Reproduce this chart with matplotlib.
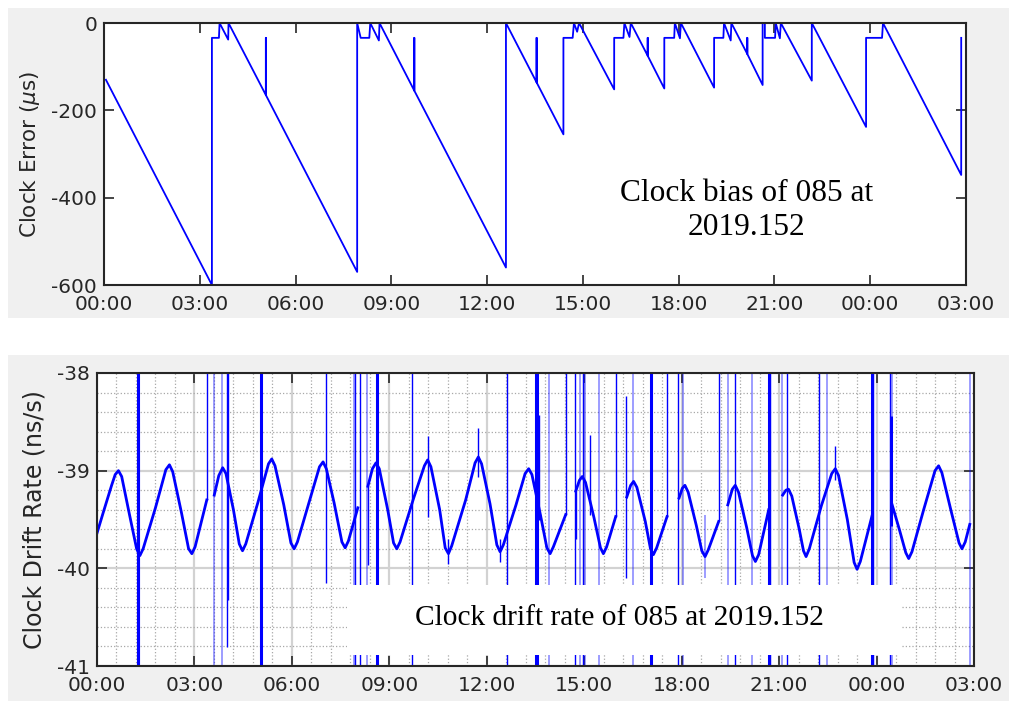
import matplotlib
matplotlib.use('Agg')
import matplotlib.pyplot as plt
import numpy as np
from matplotlib.patches import Rectangle
from matplotlib.ticker import MultipleLocator

plt.rcParams['axes.unicode_minus'] = False

# ---- top panel: clock bias (hours since 00:00, microseconds)
bias_h = [0.06, 3.38, 3.38, 3.60, 3.62, 3.89, 3.90, 5.07, 5.07, 5.07, 7.93,
          7.93, 8.04, 8.31, 8.34, 8.61, 8.63, 9.72, 9.72, 9.72, 12.59,
          12.59, 13.55, 13.55, 13.55, 14.39,
          14.39, 14.68, 14.72, 14.82, 14.88, 15.98,
          15.98, 16.27, 16.30, 16.46, 16.50, 17.03, 17.03, 17.03, 17.55,
          17.55, 17.86, 17.88, 18.04, 18.07, 19.11,
          19.11, 19.40, 19.42, 19.63, 19.65, 20.15, 20.15, 20.15, 20.63,
          20.63, 20.70, 20.70, 21.02, 21.04, 21.17, 21.20, 22.17,
          22.17, 23.87,
          23.87, 24.37, 24.40, 26.85, 26.85]
bias_us = [-130, -600, -34, -34, 0, -38, 0, -165, -34, -165, -570,
           0, -34, -34, 0, -40, 0, -155, -34, -155, -560,
           0, -136, -34, -136, -255,
           -34, -34, 0, -20, 0, -152,
           -34, -34, 0, -32, 0, -75, -34, -75, -150,
           -34, -34, 0, -35, 0, -148,
           -34, -34, 0, -40, 0, -71, -34, -71, -142,
           0, 0, -34, -34, 0, -35, 0, -132,
           0, -238,
           -34, -34, 0, -348, -34]

# ---- bottom panel: clock drift rate (ns/s), segments between resets
seg1_h = [0.00, 0.20, 0.45, 0.56, 0.66, 0.76, 1.00, 1.22, 1.32, 1.42, 1.80,
          2.12, 2.23, 2.33, 2.60, 2.82, 2.92, 3.02, 3.38]
seg1_v = [-39.64, -39.42, -39.15, -39.04, -39.00, -39.06, -39.45, -39.80,
          -39.87, -39.80, -39.38, -38.99, -38.94, -39.01, -39.43, -39.80,
          -39.85, -39.78, -39.30]
seg2_h = [3.61, 3.75, 3.87, 3.97, 4.20, 4.38, 4.48, 4.58, 4.95, 5.28, 5.38,
          5.48, 5.75, 5.97, 6.07, 6.17, 6.55, 6.85, 6.96, 7.06, 7.30, 7.54,
          7.64, 7.74, 8.03]
seg2_v = [-39.25, -39.05, -38.97, -39.03, -39.40, -39.75, -39.82, -39.75,
          -39.33, -38.93, -38.88, -38.95, -39.35, -39.74, -39.80, -39.73,
          -39.30, -38.96, -38.91, -38.98, -39.33, -39.73, -39.79, -39.72,
          -39.38]
seg3_h = [8.34, 8.48, 8.59, 8.69, 8.95, 9.13, 9.23, 9.33, 9.75, 10.08, 10.18,
          10.28, 10.55, 10.72, 10.82, 10.92, 11.35, 11.64, 11.74, 11.84,
          12.10, 12.31, 12.41, 12.51, 12.90, 13.18, 13.29, 13.39, 13.65,
          13.85, 13.95, 14.05, 14.43]
seg3_v = [-39.16, -38.98, -38.92, -38.98, -39.40, -39.74, -39.80, -39.73,
          -39.28, -38.95, -38.89, -38.96, -39.40, -39.79, -39.85, -39.77,
          -39.30, -38.92, -38.86, -38.93, -39.34, -39.76, -39.83, -39.76,
          -39.35, -39.03, -38.98, -39.04, -39.45, -39.79, -39.85, -39.78,
          -39.45]
seg4_h = [14.74, 14.85, 14.94, 15.04, 15.30, 15.50, 15.59, 15.69, 15.97]
seg4_v = [-39.21, -39.10, -39.06, -39.12, -39.48, -39.79, -39.85, -39.78, -39.47]
seg5_h = [16.31, 16.43, 16.52, 16.62, 16.88, 17.04, 17.13, 17.23, 17.55]
seg5_v = [-39.27, -39.15, -39.11, -39.17, -39.52, -39.80, -39.86, -39.79, -39.47]
seg6_h = [17.92, 18.02, 18.10, 18.20, 18.45, 18.62, 18.72, 18.82, 19.14]
seg6_v = [-39.28, -39.18, -39.15, -39.22, -39.56, -39.82, -39.88, -39.81, -39.52]
seg7_h = [19.42, 19.56, 19.65, 19.75, 20.00, 20.18, 20.27, 20.37, 20.68]
seg7_v = [-39.35, -39.19, -39.15, -39.22, -39.58, -39.87, -39.93, -39.86, -39.40]
seg8_h = [21.11, 21.21, 21.29, 21.39, 21.62, 21.75, 21.83, 21.93, 22.30,
          22.62, 22.73, 22.83, 23.10, 23.31, 23.40, 23.50, 23.87]
seg8_v = [-39.25, -39.20, -39.19, -39.26, -39.60, -39.82, -39.88, -39.80,
          -39.36, -39.03, -38.98, -39.05, -39.50, -39.94, -40.01, -39.93,
          -39.45]
seg9_h = [24.48, 24.70, 24.90, 24.99, 25.09, 25.45, 25.80, 25.91, 26.01,
          26.30, 26.54, 26.63, 26.73, 26.87]
seg9_v = [-39.35, -39.60, -39.84, -39.90, -39.83, -39.40, -39.00, -38.95,
          -39.02, -39.42, -39.74, -39.80, -39.73, -39.55]

# spikes in the drift rate: hour, low, high, kind (values past -38/-41 are off scale)
spike_h = [1.25, 3.61, 3.86, 5.05, 7.90, 7.95, 8.10, 8.30, 8.61, 9.71, 12.62,
           13.50, 13.56, 13.92, 14.72, 14.88, 14.95, 15.01, 15.46, 16.49,
           17.06, 17.10, 17.90, 18.04, 19.42, 19.65, 20.17, 20.68, 20.72,
           21.10, 21.25, 22.22, 22.46, 23.87, 23.90, 24.41, 24.48, 26.89,
           3.38, 4.00, 4.02, 7.06, 8.34, 14.43, 14.74, 15.18, 15.97, 16.28,
           17.55, 18.72, 19.14, 24.43, 10.20, 11.74, 10.82, 12.41, 22.73,
           13.60, 1.27]
spike_lo = [-41.5, -41.5, -41.5, -41.5, -41.5, -41.5, -41.5, -41.5, -41.5,
            -41.5, -41.5, -41.5, -41.5, -41.5, -41.5, -41.5, -41.5, -41.5,
            -41.5, -41.5, -41.5, -41.5, -41.5, -41.5, -41.5, -41.5, -41.5,
            -41.5, -41.5, -41.5, -41.5, -41.5, -41.5, -41.5, -41.5, -41.5,
            -41.5, -41.5,
            -39.30, -40.81, -40.32, -40.15, -39.97, -39.45, -39.70, -39.45,
            -39.47, -40.10, -39.47, -40.10, -39.52, -39.57, -39.47, -39.06,
            -39.96, -39.94, -39.10, -39.50, -41.5]
spike_hi = [-37.5] * 38 + [
            -37.5, -37.5, -37.5, -37.5, -39.16, -37.5, -39.21, -38.63,
            -37.5, -38.24, -37.5, -39.45, -37.5, -38.44, -38.64, -38.56,
            -39.70, -39.70, -38.75, -38.43, -38.41]
spike_kind = ['thick', 'light', 'light', 'thick', 'light', 'thin', 'thin',
              'light', 'thick', 'thin', 'thin', 'thick', 'thick', 'light',
              'thin', 'light', 'thin', 'light', 'light', 'light', 'thick',
              'light', 'thin', 'light', 'light', 'thin', 'light', 'thick',
              'thin', 'light', 'thin', 'thin', 'light', 'thick', 'thin',
              'thin', 'light', 'light',
              'thin', 'thin', 'thin', 'thin', 'thin', 'thin', 'thin', 'thin',
              'thin', 'thin', 'thin', 'light', 'thin', 'thick', 'thin', 'thin',
              'thin', 'thin', 'thin', 'thin', 'thick']

tick_hours = [0, 3, 6, 9, 12, 15, 18, 21, 24, 27]
tick_labels = ['00:00', '03:00', '06:00', '09:00', '12:00', '15:00', '18:00',
               '21:00', '00:00', '03:00']

ink = '#262626'
panel = '#f0f0f0'

fig = plt.figure(figsize=(10.09, 7.01), dpi=100)
fig.add_artist(Rectangle((8 / 1009, 1 - 318 / 701), 1, 310 / 701,
                         transform=fig.transFigure, fc=panel, ec='none', zorder=-10))
fig.add_artist(Rectangle((8 / 1009, 0), 1, 346 / 701,
                         transform=fig.transFigure, fc=panel, ec='none', zorder=-10))


def style(ax):
    ax.set_xticks(tick_hours)
    ax.set_xticklabels(tick_labels)
    ax.tick_params(which='major', direction='in', length=7, width=1.2,
                   top=True, right=True, labelsize=14.5, color=ink,
                   labelcolor=ink)
    ax.tick_params(axis='x', pad=7)
    ax.tick_params(axis='y', pad=5)
    for s in ax.spines.values():
        s.set_linewidth(1.5)
        s.set_color(ink)


# top
ax1 = fig.add_axes([104 / 1009, 1 - 285 / 701, 862 / 1009, 262 / 701])
ax1.plot(bias_h, bias_us, color='blue', lw=1.3)
ax1.set_xlim(0, 27)
ax1.set_ylim(-600, 0)
ax1.set_yticks([-600, -400, -200, 0])
style(ax1)
ax1.set_ylabel(r'Clock Error ($\mu$s)', fontsize=15.5, color=ink)
ax1.yaxis.set_label_coords(-0.072, 0.5)
ax1.text(0.745, 0.285, 'Clock bias of 085 at\n2019.152', transform=ax1.transAxes,
         ha='center', va='center', multialignment='center', fontsize=22.6,
         family='Liberation Serif')

# bottom
ax2 = fig.add_axes([97 / 1009, 1 - 666 / 701, 877 / 1009, 293 / 701])
ax2.set_axisbelow(True)
ax2.xaxis.set_minor_locator(MultipleLocator(0.6))
ax2.yaxis.set_minor_locator(MultipleLocator(0.2))
ax2.grid(which='major', color='#d2d2d2', lw=1.6, ls='-')
ax2.grid(which='minor', color='#a8a8a8', lw=0.9, ls=':')
ax2.tick_params(which='minor', length=0)

styles = {'thick': dict(lw=2.2, alpha=1.0), 'thin': dict(lw=1.0, alpha=1.0),
          'light': dict(lw=1.2, alpha=0.45)}
for kind, st in styles.items():
    idx = [i for i, k in enumerate(spike_kind) if k == kind]
    ax2.vlines([spike_h[i] for i in idx], [spike_lo[i] for i in idx],
               [spike_hi[i] for i in idx], colors='blue', zorder=2, **st)

segs = [(seg1_h, seg1_v), (seg2_h, seg2_v), (seg3_h, seg3_v), (seg4_h, seg4_v),
        (seg5_h, seg5_v), (seg6_h, seg6_v), (seg7_h, seg7_v), (seg8_h, seg8_v),
        (seg9_h, seg9_v)]
for h, v in segs:
    ax2.plot(h, v, color='blue', lw=2.0, zorder=2, solid_joinstyle='round')

ax2.set_xlim(0, 27)
ax2.set_ylim(-41, -38)
ax2.set_yticks([-41, -40, -39, -38])
style(ax2)
ax2.set_ylabel('Clock Drift Rate (ns/s)', fontsize=17, color=ink)
ax2.yaxis.set_label_coords(-0.058, 0.5)

ax2.add_patch(Rectangle((0.285, 0.0375), 0.633, 0.2385, transform=ax2.transAxes,
                        fc='white', ec='none', zorder=3))
ax2.text(0.596, 0.14, 'Clock drift rate of 085 at 2019.152', transform=ax2.transAxes,
         ha='center', va='baseline', fontsize=21.2, family='Liberation Serif', zorder=4)

fig.savefig('out.png', dpi=100, facecolor='white')
